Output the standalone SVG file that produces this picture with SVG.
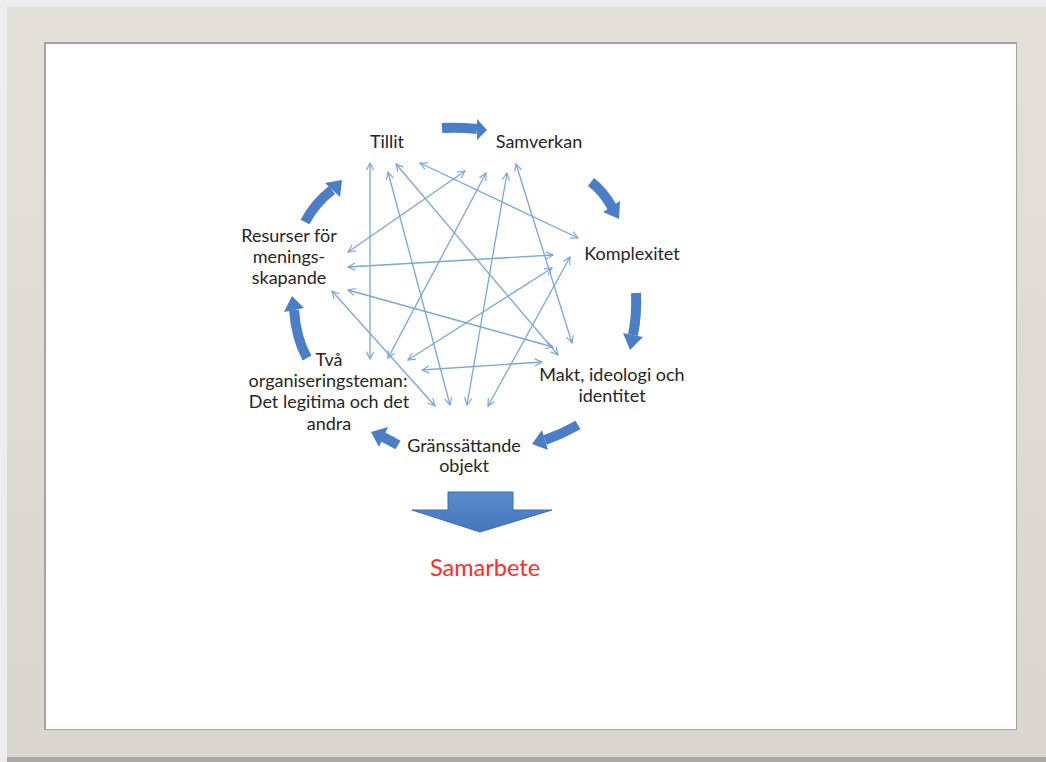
<svg xmlns="http://www.w3.org/2000/svg" width="1046" height="762" viewBox="0 0 1046 762">
<defs>
<style>
.lbl{font-family:Lato,"Open Sans","Liberation Sans",sans-serif;font-size:18px;fill:#262626;text-anchor:middle}
.con line{stroke:#7aa6dc;stroke-width:1.3;fill:none;marker-start:url(#ah);marker-end:url(#ah)}
.cyc path.b{fill:none;stroke:#4a7fc6;stroke-width:10}
.cyc polygon{fill:#4a7fc6}
</style>
<marker id="ah" viewBox="0 0 10 10" refX="9" refY="5" markerWidth="9" markerHeight="9" markerUnits="userSpaceOnUse" orient="auto-start-reverse">
<path d="M1,1 L9,5 L1,9" fill="none" stroke="#7aa6dc" stroke-width="1.3"/>
</marker>
<linearGradient id="fr" x1="0" y1="0" x2="0" y2="1">
<stop offset="0" stop-color="#e2e0d9"/>
<stop offset="1" stop-color="#d8d6cf"/>
</linearGradient>
<linearGradient id="dn" x1="0" y1="0" x2="0" y2="1">
<stop offset="0" stop-color="#5a8bcc"/>
<stop offset="1" stop-color="#4677bb"/>
</linearGradient>
</defs>
<rect x="0" y="0" width="1046" height="762" fill="#ededed"/>
<rect x="7" y="7" width="1039" height="752" fill="url(#fr)"/>
<rect x="7" y="757" width="1039" height="5" fill="#a8a8a8"/>
<rect x="44" y="42" width="973" height="688" fill="#a3a3a3"/>
<rect x="46" y="44" width="970" height="685" fill="#ffffff"/>

<g id="connectors" class="con">
<line x1="370" y1="163" x2="370" y2="359"/>
<line x1="388" y1="172" x2="450" y2="405"/>
<line x1="396" y1="164" x2="558" y2="355"/>
<line x1="420" y1="163" x2="578" y2="238"/>
<line x1="465" y1="171" x2="348" y2="252"/>
<line x1="486" y1="173" x2="388" y2="358"/>
<line x1="507" y1="173" x2="467" y2="405"/>
<line x1="516" y1="164" x2="572" y2="343"/>
<line x1="553" y1="255" x2="348" y2="267"/>
<line x1="552" y1="268" x2="408" y2="360"/>
<line x1="570" y1="257" x2="488" y2="406"/>
<line x1="332" y1="291" x2="435" y2="406"/>
<line x1="348" y1="290" x2="553" y2="347"/>
<line x1="422" y1="370" x2="542" y2="362"/>
</g>

<g id="cycle" class="cyc">
<path class="b" d="M442,128 Q459,127 477,129"/>
<polygon points="477,119 487,130 477,140"/>
<path class="b" d="M591,182 Q603,191 612,207"/>
<polygon points="620,201 619,219 603,212"/>
<path class="b" d="M636,293 Q637,315 633,335"/>
<polygon points="643,337 630,350 623,333"/>
<path class="b" d="M578,425 Q562,434 545,440"/>
<polygon points="548,450 532,444 542,430"/>
<path class="b" d="M398,445 Q391,441 383,437"/>
<polygon points="379,447 371,432 388,427"/>
<path class="b" d="M307,358 Q296,338 294,310"/>
<polygon points="304,308 292,296 284,312"/>
<path class="b" d="M305,222 Q315,203 332,190"/>
<polygon points="340,197 342,180 325,183"/>
</g>

<g id="n-tillit"><text class="lbl" x="387" y="148">Tillit</text></g>
<g id="n-samverkan"><text class="lbl" x="539" y="148">Samverkan</text></g>
<g id="n-komplexitet"><text class="lbl" x="632" y="260">Komplexitet</text></g>
<g id="n-makt"><text class="lbl" x="612" y="381">Makt, ideologi och</text><text class="lbl" x="612" y="402">identitet</text></g>
<g id="n-gransattande"><text class="lbl" x="464" y="452">Gränssättande</text><text class="lbl" x="464" y="472">objekt</text></g>
<g id="n-tva"><text class="lbl" x="329" y="366">Två</text><text class="lbl" x="328" y="387">organiseringsteman:</text><text class="lbl" x="329" y="408">Det legitima och det</text><text class="lbl" x="329" y="430">andra</text></g>
<g id="n-resurser"><text class="lbl" x="289" y="242">Resurser för</text><text class="lbl" x="289" y="263">menings-</text><text class="lbl" x="289" y="284">skapande</text></g>

<g id="result">
<polygon points="448,492 513,492 513,510 552,510 480,532 412,510 448,510" fill="url(#dn)" stroke="#3d6eb0" stroke-width="1"/>
<text x="485" y="576" font-family="Lato,'Open Sans','Liberation Sans',sans-serif" font-size="23.5" fill="#ff2b2b" text-anchor="middle">Samarbete</text>
</g>
</svg>
